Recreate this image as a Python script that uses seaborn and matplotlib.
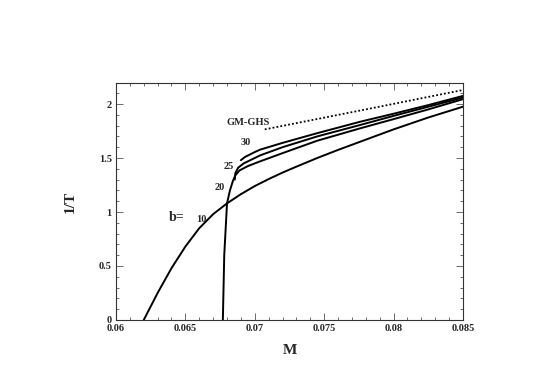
import numpy as np
import pandas as pd
import matplotlib
matplotlib.use('Agg')
import matplotlib.pyplot as plt
from matplotlib.ticker import MultipleLocator
import seaborn as sns

# curve data: M vs 1/T
M_b10 = [0.0620, 0.0630, 0.0640, 0.0650, 0.0660, 0.0670, 0.0680, 0.0690, 0.0700,
         0.0710, 0.0720, 0.0730, 0.0745, 0.0760, 0.0780, 0.0800, 0.0825, 0.0850]
T_b10 = [0.0, 0.25, 0.48, 0.68, 0.85, 0.98, 1.08, 1.165, 1.24,
         1.305, 1.365, 1.42, 1.50, 1.575, 1.67, 1.765, 1.875, 1.975]

M_b20 = [0.0677, 0.0678, 0.0680, 0.06821, 0.06843, 0.0686, 0.0689, 0.0695, 0.0703,
         0.0720, 0.0745, 0.0776, 0.0800, 0.0825, 0.0850]
T_b20 = [0.0, 0.60, 1.08, 1.20, 1.29, 1.34, 1.385, 1.425, 1.465,
         1.545, 1.66, 1.775, 1.86, 1.95, 2.045]

M_b25 = [0.06856, 0.0686, 0.0688, 0.0692, 0.0700, 0.0704, 0.0720, 0.0745, 0.0776,
         0.0800, 0.0825, 0.0850]
T_b25 = [1.30, 1.36, 1.41, 1.45, 1.50, 1.525, 1.60, 1.70, 1.806,
         1.89, 1.975, 2.06]

M_b30 = [0.0690, 0.0693, 0.0700, 0.0704, 0.0720, 0.0745, 0.0776, 0.0800, 0.0825, 0.0850]
T_b30 = [1.48, 1.51, 1.555, 1.578, 1.64, 1.73, 1.836, 1.91, 1.99, 2.075]

M_gm = [0.07072, 0.0780, 0.0850]
T_gm = [1.765, 1.95, 2.13]

x_ticks = [0.06, 0.065, 0.07, 0.075, 0.08, 0.085]
x_labels = ['0.06', '0.065', '0.07', '0.075', '0.08', '0.085']
y_ticks = [0, 0.5, 1, 1.5, 2]
y_labels = ['0', '0.5', '1', '1.5', '2']

curves = [(M_b10, T_b10), (M_b20, T_b20), (M_b25, T_b25), (M_b30, T_b30)]

sns.set_style("ticks")
plt.rcParams['font.family'] = ['Liberation Serif', 'DejaVu Serif']
plt.rcParams['font.weight'] = 'bold'

fig = plt.figure(figsize=(5.45, 3.8), dpi=100)
ax = fig.add_axes([0.2128, 0.1579, 0.6367, 0.6224])

for m, t in curves:
    d = pd.DataFrame({'M': m, 'T': t})
    sns.lineplot(data=d, x='M', y='T', sort=False, estimator=None, ax=ax,
                 color='black', linewidth=1.4)

d = pd.DataFrame({'M': M_gm, 'T': T_gm})
sns.lineplot(data=d, x='M', y='T', sort=False, estimator=None, ax=ax,
             color='black', linewidth=1.3, linestyle=(0, (1, 1.2)))

ax.set_xlim(0.06, 0.085)
ax.set_ylim(0, 2.19)
ax.set_xticks(x_ticks)
ax.set_xticklabels(x_labels)
ax.set_yticks(y_ticks)
ax.set_yticklabels(y_labels)
ax.xaxis.set_minor_locator(MultipleLocator(0.001))
ax.yaxis.set_minor_locator(MultipleLocator(0.1))
ax.tick_params(which='both', direction='in', top=True, right=True,
               labelsize=7.5, width=0.6, color='#555555', pad=3)
ax.tick_params(which='major', length=5)
ax.tick_params(which='minor', length=2.5)
for s in ax.spines.values():
    s.set_linewidth(0.8)
    s.set_color('#333333')

ax.set_xlabel('M', fontsize=11, fontweight='bold', labelpad=8)
ax.set_ylabel('1/T', fontsize=11, fontweight='bold', labelpad=16)

ax.text(0.06951, 1.83, 'GM-GHS', fontsize=7.5, fontweight='bold', ha='center', va='center')
ax.text(0.06937, 1.64, '30', fontsize=7.5, fontweight='bold', ha='center', va='center')
ax.text(0.06814, 1.42, '25', fontsize=7.5, fontweight='bold', ha='center', va='center')
ax.text(0.06749, 1.23, '20', fontsize=7.5, fontweight='bold', ha='center', va='center')
ax.text(0.0644, 0.95, 'b=', fontsize=10, fontweight='bold', ha='center', va='center')
ax.text(0.06615, 0.935, '10', fontsize=7.5, fontweight='bold', ha='center', va='center')

fig.savefig('out.png', dpi=100)
